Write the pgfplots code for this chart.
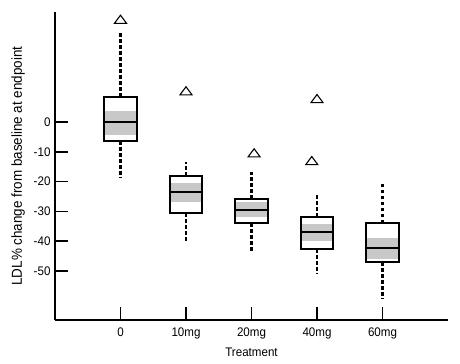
\documentclass[border=0pt]{standalone}
\usepackage{fontspec}
\setmainfont[FakeStretch=0.93]{Liberation Sans}
\usepackage{pgfplots}
\pgfplotsset{compat=1.18}
\definecolor{band}{RGB}{200,200,200}
% band: left right lo hi
\newcommand{\band}[4]{\addplot[fill=band,draw=none] coordinates {(#1,#3) (#2,#3) (#2,#4) (#1,#4)} -- cycle;}
% box: left center right lw q1 med q3 uw
\newcommand{\bx}[8]{%
\addplot[black,line width=1.8bp] coordinates {(#1,#5) (#3,#5) (#3,#7) (#1,#7)} -- cycle;
\addplot[black,line width=1.8bp] coordinates {(#1,#6) (#3,#6)};
\addplot[black,line width=2.1bp,dash pattern=on 3.8bp off 2.2bp] coordinates {(#2,#7) (#2,#8)};
\addplot[black,line width=2.1bp,dash pattern=on 3.8bp off 2.2bp] coordinates {(#2,#5) (#2,#4)};
}
\begin{document}
\begin{tikzpicture}
\begin{axis}[
  scale only axis, width=393bp, height=308bp,
  xmin=-1, xmax=5, ymin=-66.4, ymax=36.9,
  axis lines=left, axis line style={-, line width=1.3bp},
  tick align=inside, major tick length=13bp,
  tick style={black, line width=1.6bp},
  xtick={0,1,2,3,4}, xticklabels={0,10mg,20mg,40mg,60mg},
  ytick={-50,-40,-30,-20,-10,0}, yticklabels={-50,-40,-30,-20,-10,0},
  ticklabel style={font=\fontsize{12.5}{14}\selectfont},
  xticklabel style={yshift=-4bp},
  yticklabel style={xshift=-1bp},
  xlabel={Treatment}, ylabel={LDL\% change from baseline at endpoint},
  xlabel style={font=\fontsize{12.5}{14}\selectfont, yshift=-2bp},
  ylabel style={font=\fontsize{14.5}{16}\selectfont, yshift=2bp},
  clip=false,
]
\band{-0.25}{0.25}{-4.2}{3.7}
\band{0.75}{1.25}{-26.9}{-20.5}
\band{1.75}{2.25}{-31.8}{-26.8}
\band{2.75}{3.25}{-40.0}{-34.3}
\band{3.75}{4.25}{-46.1}{-38.9}
\bx{-0.25}{0}{0.25}{-18.9}{-6.4}{0}{8.5}{30.3}
\bx{0.75}{1}{1.25}{-40.4}{-30.6}{-23.6}{-18.0}{-13.3}
\bx{1.75}{2}{2.25}{-43.5}{-34.0}{-29.4}{-25.7}{-16.7}
\bx{2.75}{3}{3.25}{-50.8}{-42.5}{-37.0}{-31.8}{-24.5}
\bx{3.75}{4}{4.25}{-59.4}{-46.9}{-42.2}{-34.0}{-20.0}
\addplot[only marks, mark=triangle, mark size=7bp, mark options={black, line width=1.1bp, yscale=0.78, fill=white}]
  coordinates {(0,34.0) (1,10.0) (2.04,-10.8) (3.0,7.4) (2.92,-13.4)};
\end{axis}
\pgfresetboundingbox
\path ([shift={(-55bp,-44bp)}]current axis.south west) rectangle ([shift={(12bp,12bp)}]current axis.north east);
\end{tikzpicture}
\end{document}
